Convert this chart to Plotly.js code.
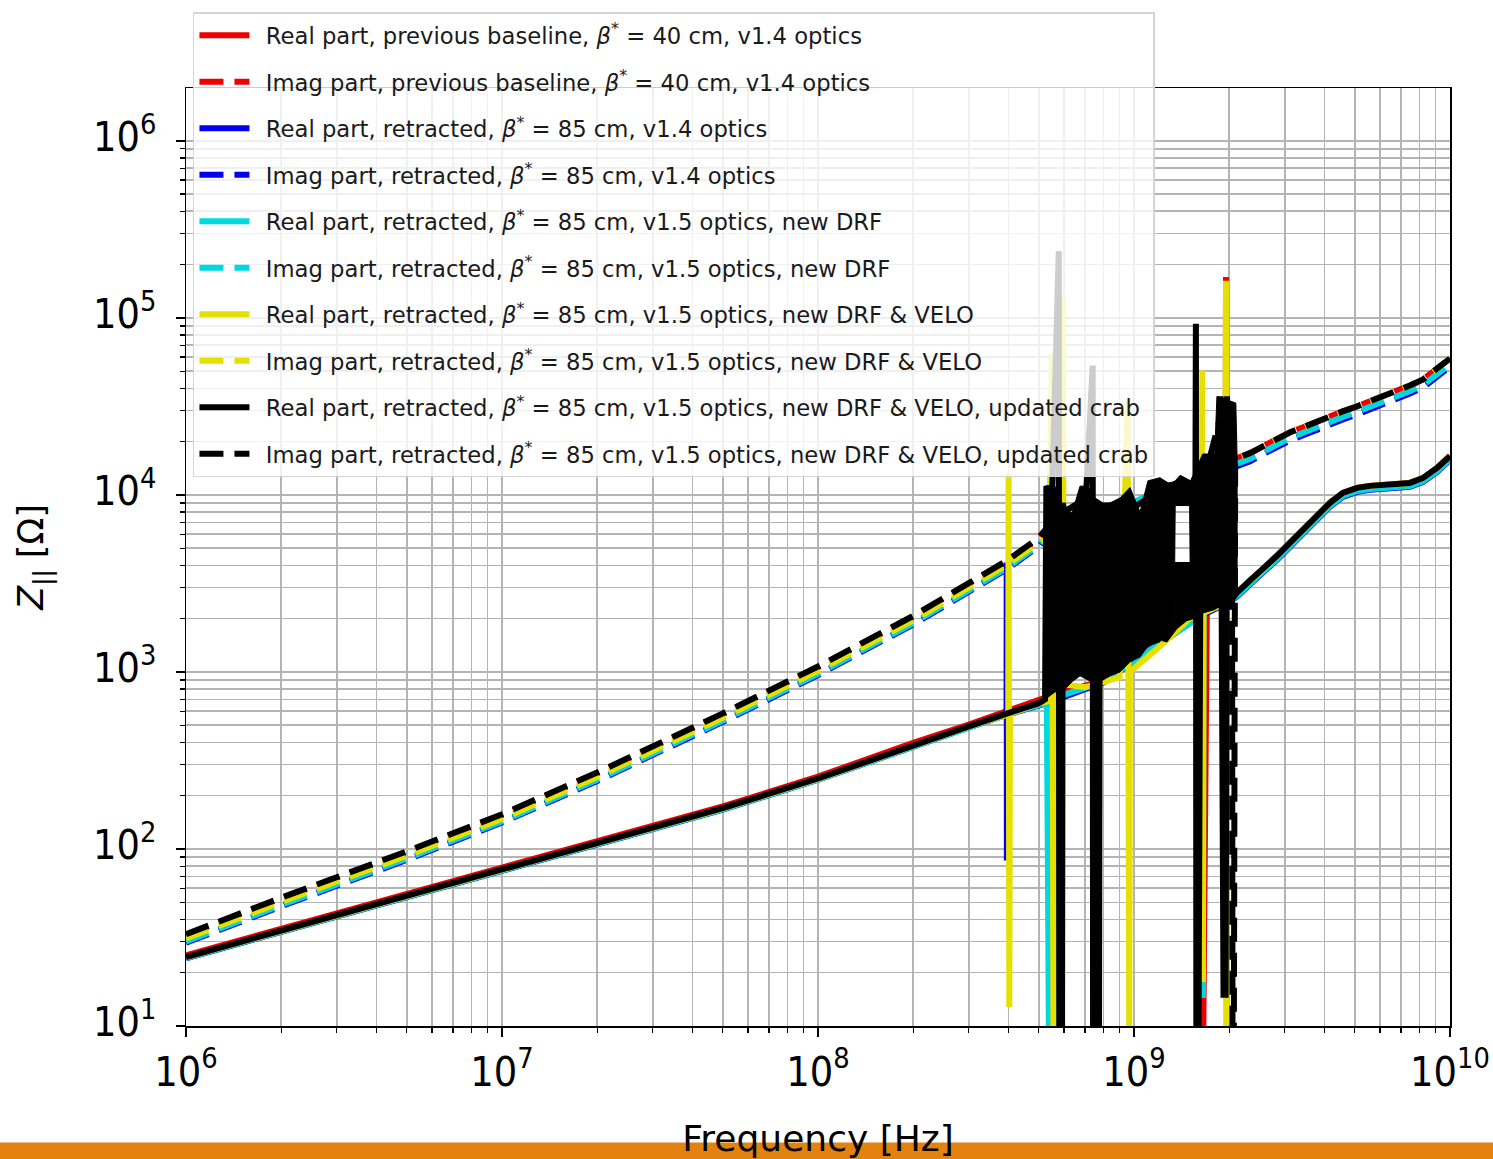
<!DOCTYPE html>
<html><head><meta charset="utf-8">
<script src="https://cdn.plot.ly/plotly-3.0.1.min.js"></script>
<style>html,body{margin:0;padding:0;background:#fff}</style>
</head><body><div id="chart" style="width:1493px;height:1159px"></div>
<script>
// ---- shared frequency grids [Hz] ----
const F_PRE  = [1e6, 2e6, 5e6, 1e7, 2e7, 5e7, 1e8, 2e8, 3e8, 4e8, 5e8];
const F_POST = [2.12e9, 2.33e9, 2.56e9, 2.84e9, 3.12e9, 3.43e9, 3.80e9, 4.17e9, 4.58e9, 5.08e9, 5.58e9, 6.14e9, 6.79e9, 7.47e9, 8.22e9, 9.1e9, 1e10];

// ---- red: previous baseline, beta*=40 cm, v1.4 ----
const RED_RE_PRE   = [25.1, 35.4, 55.4, 77.9, 110, 174, 256, 398, 504, 600, 683];
const RED_RE_RES_F = [5.3e8, 8e8, 1.2e9, 1.6e9, 1.648e9, 1.656e9, 1.7e9, 1.8e9, 1.948e9, 1.955e9, 1.962e9, 2.05e9];
const RED_RE_RES   = [720, 900, 1500, 2100, 8, 8, 2200, 2300, 2400, 170000, 2450, 2650];
const RED_RE_POST  = [2810, 3290, 3790, 4540, 5370, 6360, 7620, 9020, 10260, 10950, 11240, 11380, 11380, 11680, 12460, 14190, 16560];
const RED_IM_PRE   = [32.7, 52.5, 96, 155, 267, 577, 1062, 2050, 3140, 4260, 5670];
const RED_IM_RES_F = [5.3e8, 1e9, 1.6e9, 2.0e9];
const RED_IM_RES   = [6400, 9000, 12000, 15000];
const RED_IM_POST  = [16100, 17200, 18850, 20900, 22580, 24100, 26040, 27780, 29630, 31620, 33740, 35980, 38380, 41490, 44860, 51050, 58900];

// ---- blue: retracted, beta*=85 cm, v1.4 ----
const BLU_RE_PRE   = [24.1, 34.0, 53.2, 74.9, 105, 167, 246, 382, 485, 576, 656];
const BLU_RE_RES_F = [3.95e8, 3.955e8, 3.96e8, 3.965e8, 5.3e8, 8e8, 1.2e9, 1.6e9, 2.0e9];
const BLU_RE_RES   = [572, 4150, 86, 574, 665, 870, 1440, 2040, 2480];
const BLU_RE_POST  = [2670, 3126, 3601, 4313, 5102, 6042, 7239, 8569, 9747, 10403, 10678, 10811, 10811, 11096, 11837, 13481, 15732];
const BLU_IM_PRE   = [29.5, 47.4, 86.8, 141, 242, 522, 960, 1853, 2837, 3849, 5128];
const BLU_IM_RES_F = [5.3e8, 8e8, 1.2e9, 1.6e9, 2.0e9];
const BLU_IM_RES   = [5800, 7500, 10500, 12000, 14000];
const BLU_IM_POST  = [14490, 15480, 16965, 18810, 20322, 21690, 23436, 25002, 26667, 28458, 30366, 32382, 34542, 37341, 40374, 45945, 53010];

// ---- cyan: retracted, v1.5 optics, new DRF ----
const CYA_RE_PRE   = [24.2, 34.1, 53.3, 75.0, 105.5, 167.5, 246.5, 382.5, 485, 577, 657];
const CYA_RE_RES_F = [5.3e8, 5.38e8, 5.42e8, 8e8, 1.2e9, 1.6e9, 1.646e9, 1.652e9, 1.66e9, 2.0e9];
const CYA_RE_RES   = [670, 8, 700, 880, 1450, 2050, 2100, 14.4, 2150, 2500];
const CYA_RE_POST  = [2698, 3158, 3638, 4358, 5155, 6106, 7315, 8659, 9850, 10512, 10790, 10925, 10925, 11213, 11962, 13622, 15898];
const CYA_IM_PRE   = [30.0, 48.2, 88.3, 143, 246, 531, 976, 1884, 2885, 3913, 5214];
const CYA_IM_RES_F = [5.3e8, 8e8, 1.2e9, 1.6e9, 2.0e9];
const CYA_IM_RES   = [5900, 7600, 10600, 12000, 14500];
const CYA_IM_POST  = [14973, 15996, 17531, 19437, 21000, 22413, 24217, 25835, 27556, 29407, 31378, 33461, 35693, 38586, 41720, 47477, 54777];

// ---- yellow: new DRF & VELO ----
const YEL_RE_PRE   = [24.4, 34.3, 53.7, 75.6, 106.5, 169, 249, 386, 490, 582, 663];
const YEL_RE_RES_F = [3.99e8, 4.01e8, 4.03e8, 4.05e8, 5.3e8, 5.50e8, 5.52e8, 5.56e8, 5.58e8, 5.9e8, 5.95e8, 6.0e8, 7e8, 9e8, 9.55e8, 9.62e8, 9.66e8, 9.7e8, 1.2e9, 1.5e9, 1.63e9, 1.645e9, 1.652e9, 1.66e9, 1.8e9, 1.94e9, 1.955e9, 1.958e9, 1.965e9, 2.05e9];
const YEL_RE_RES   = [575, 13300, 12.8, 580, 680, 63000, 8, 8, 780, 800, 131000, 850, 820, 930, 33700, 8, 8, 1000, 1380, 2000, 2100, 50400, 17.7, 2150, 2300, 2400, 162000, 8, 2500, 2650];
const YEL_RE_POST  = [2810, 3290, 3790, 4540, 5370, 6360, 7620, 9020, 10260, 10950, 11240, 11380, 11380, 11680, 12460, 14190, 16560];
const YEL_IM_PRE   = [31.2, 50.1, 91.7, 148, 255, 551, 1014, 1956, 2996, 4064, 5415];
const YEL_IM_RES_F = [5.3e8, 6.5e8, 7.5e8, 8.5e8, 1.1e9, 1.3e9, 1.5e9, 1.8e9, 2.05e9];
const YEL_IM_RES   = [5700, 4500, 7500, 8000, 9000, 10500, 11500, 13000, 15000];
const YEL_IM_POST  = [16100, 17200, 18850, 20900, 22580, 24100, 26040, 27780, 29630, 31620, 33740, 35980, 38380, 41490, 44860, 51050, 58900];

// ---- black: new DRF & VELO, updated crab ----
const BLK_RE_PRE   = [24.5, 34.5, 54, 76, 107, 170, 250, 388, 492, 585, 666];
const BLK_RE_RES_F = [5.23e8, 5.28e8, 5.5e8, 5.78e8, 5.80e8, 5.84e8, 5.86e8, 5.88e8, 5.92e8, 5.95e8, 6.2e8, 6.6e8, 7.0e8, 7.4e8, 7.42e8, 7.5e8, 7.55e8, 7.6e8, 7.75e8, 7.8e8, 8.4e8, 9.0e8, 9.7e8, 1.05e9, 1.1e9, 1.15e9, 1.25e9, 1.35e9, 1.45e9, 1.56e9, 1.57e9, 1.575e9, 1.6e9, 1.62e9, 1.75e9, 1.85e9, 1.88e9, 1.92e9, 1.95e9, 1.97e9, 2.05e9];
const BLK_RE_RES   = [700, 11200, 9500, 238000, 8, 8, 9000, 8, 8, 9000, 6000, 1000, 9500, 53700, 8, 8, 6000, 8, 8, 9000, 1100, 9000, 1150, 8000, 1400, 12000, 1500, 1800, 2000, 2080, 92500, 8, 8, 2200, 17000, 2300, 36000, 15, 15, 36000, 2600];
const BLK_RE_POST  = [2810, 3290, 3790, 4540, 5370, 6360, 7620, 9020, 10260, 10950, 11240, 11380, 11380, 11680, 12460, 14190, 16560];
const BLK_IM_PRE   = [33, 53, 97, 157, 270, 583, 1073, 2070, 3170, 4300, 5730];
const BLK_IM_RES_F = [5.3e8, 6.0e8, 7.0e8, 8.0e8, 9.0e8, 1.0e9, 1.1e9, 1.2e9, 1.35e9, 1.5e9, 1.7e9, 1.9e9, 2.04e9, 2.05e9, 2.07e9, 2.09e9];
const BLK_IM_RES   = [6500, 8000, 9500, 8500, 9000, 8500, 9500, 11000, 11500, 11000, 14000, 30000, 33000, 8, 8, 15000];
const BLK_IM_POST  = [16100, 17200, 18850, 20900, 22580, 24100, 26040, 27780, 29630, 31620, 33740, 35980, 38380, 41490, 44860, 51050, 58900];

// ---- dense resonance band of the black curves (envelope) ----
const BAND_F  = [5.23e8, 5.62e8, 6.05e8, 6.37e8, 6.75e8, 7.15e8, 7.53e8, 7.98e8, 8.40e8, 9.03e8, 9.71e8, 1.045e9, 1.107e9, 1.208e9, 1.30e9, 1.34e9, 1.35e9, 1.40e9, 1.50e9, 1.51e9, 1.65e9, 1.80e9, 1.83e9, 2.10e9, 2.12e9];
const BAND_UP = [11200, 11200, 8200, 7900, 11200, 11200, 9600, 9000, 9000, 9600, 11000, 8000, 12000, 12500, 11500, 12000, 12000, 12900, 12000, 12000, 17000, 17000, 36000, 33000, 16100];
const BAND_LO = [700, 770, 800, 880, 950, 900, 880, 900, 950, 1000, 1140, 1215, 1400, 1480, 1740, 1780, 8700, 8700, 8700, 2090, 2150, 2250, 2300, 2700, 2810];
const BAND2_F  = [1.34e9, 1.51e9];
const BAND2_UP = [4150, 4150];
const BAND2_LO = [1780, 2090];

// ---- tick labels ----
const X_TICKS = [1e6, 1e7, 1e8, 1e9, 1e10];
const X_TICK_TEXT = ['10<sup>6</sup>', '10<sup>7</sup>', '10<sup>8</sup>', '10<sup>9</sup>', '10<sup>10</sup>'];
const Y_TICKS = [1e1, 1e2, 1e3, 1e4, 1e5, 1e6];
const Y_TICK_TEXT = ['10<sup>1</sup>', '10<sup>2</sup>', '10<sup>3</sup>', '10<sup>4</sup>', '10<sup>5</sup>', '10<sup>6</sup>'];

// ---- legend labels ----
const BS = '<i>β</i><sup>*</sup>';
const PAD = '\u2002';
const NAMES = [
  'Real part, previous baseline, ' + BS + ' = 40 cm, v1.4 optics',
  'Imag part, previous baseline, ' + BS + ' = 40 cm, v1.4 optics',
  'Real part, retracted, ' + BS + ' = 85 cm, v1.4 optics',
  'Imag part, retracted, ' + BS + ' = 85 cm, v1.4 optics',
  'Real part, retracted, ' + BS + ' = 85 cm, v1.5 optics, new DRF',
  'Imag part, retracted, ' + BS + ' = 85 cm, v1.5 optics, new DRF',
  'Real part, retracted, ' + BS + ' = 85 cm, v1.5 optics, new DRF &amp; VELO',
  'Imag part, retracted, ' + BS + ' = 85 cm, v1.5 optics, new DRF &amp; VELO',
  'Real part, retracted, ' + BS + ' = 85 cm, v1.5 optics, new DRF &amp; VELO, updated crab',
  'Imag part, retracted, ' + BS + ' = 85 cm, v1.5 optics, new DRF &amp; VELO, updated crab'
];
const COLORS = ['#ee0000', '#ee0000', '#0000ee', '#0000ee', '#00d8e0', '#00d8e0', '#e6e000', '#e6e000', '#000000', '#000000'];

function buildSeries(pre, resF, resZ, post) {
  const pts = [];
  F_PRE.forEach((f, i) => pts.push([f, pre[i]]));
  resF.forEach((f, i) => pts.push([f, resZ[i]]));
  F_POST.forEach((f, i) => pts.push([f, post[i]]));
  pts.sort((a, b) => a[0] - b[0]);
  return { x: pts.map(p => p[0]), y: pts.map(p => p[1]) };
}

const SERIES = [
  buildSeries(RED_RE_PRE, RED_RE_RES_F, RED_RE_RES, RED_RE_POST),
  buildSeries(RED_IM_PRE, RED_IM_RES_F, RED_IM_RES, RED_IM_POST),
  buildSeries(BLU_RE_PRE, BLU_RE_RES_F, BLU_RE_RES, BLU_RE_POST),
  buildSeries(BLU_IM_PRE, BLU_IM_RES_F, BLU_IM_RES, BLU_IM_POST),
  buildSeries(CYA_RE_PRE, CYA_RE_RES_F, CYA_RE_RES, CYA_RE_POST),
  buildSeries(CYA_IM_PRE, CYA_IM_RES_F, CYA_IM_RES, CYA_IM_POST),
  buildSeries(YEL_RE_PRE, YEL_RE_RES_F, YEL_RE_RES, YEL_RE_POST),
  buildSeries(YEL_IM_PRE, YEL_IM_RES_F, YEL_IM_RES, YEL_IM_POST),
  buildSeries(BLK_RE_PRE, BLK_RE_RES_F, BLK_RE_RES, BLK_RE_POST),
  buildSeries(BLK_IM_PRE, BLK_IM_RES_F, BLK_IM_RES, BLK_IM_POST)
];

const FONT = 'DejaVu Sans, Liberation Sans, sans-serif';
const TICKFONT = 'DejaVu Sans Condensed, Liberation Sans Narrow, DejaVu Sans, sans-serif';
const traces = SERIES.map((s, i) => ({
  type: 'scatter', mode: 'lines', x: s.x, y: s.y, name: PAD + NAMES[i],
  legendgroup: 'g' + i,
  line: { color: COLORS[i], width: 6, dash: (i % 2 === 1) ? '24px,11px' : 'solid' },
  hoverinfo: 'skip'
}));

function band(f, up, lo) {
  return {
    type: 'scatter', mode: 'lines',
    x: f.concat(f.slice().reverse()),
    y: up.concat(lo.slice().reverse()),
    fill: 'toself', fillcolor: '#000000',
    line: { color: '#000000', width: 1 }, showlegend: false, hoverinfo: 'skip'
  };
}
traces.push(band(BAND_F, BAND_UP, BAND_LO));
traces.push(band(BAND2_F, BAND2_UP, BAND2_LO));

const gridC = '#b4b4b4';
const axisCommon = {
  type: 'log', tickmode: 'array',
  tickfont: { family: TICKFONT, size: 41, color: '#000' },
  ticks: 'outside', ticklen: 9, tickwidth: 1.5, tickcolor: '#000',
  showline: true, linecolor: '#000', linewidth: 1.5, mirror: true,
  showgrid: true, gridcolor: gridC, gridwidth: 1.5, zeroline: false,
  minor: { dtick: 'D1', ticks: 'outside', ticklen: 5, tickwidth: 1.2, tickcolor: '#000', showgrid: true, gridcolor: gridC, gridwidth: 1.5 }
};

const layout = {
  width: 1493, height: 1159,
  margin: { l: 186, r: 43, t: 83, b: 133 },
  paper_bgcolor: '#fff', plot_bgcolor: '#fff',
  font: { family: FONT, color: '#000' },
  showlegend: true,
  xaxis: Object.assign({}, axisCommon, {
    range: [6, 10], tickvals: X_TICKS, ticktext: X_TICK_TEXT,
    ticklabelstandoff: 0,
    title: { text: 'Frequency [Hz]', font: { family: FONT, size: 36, color: '#000' }, standoff: 34 }
  }),
  yaxis: Object.assign({}, axisCommon, {
    range: [1, 6.298], tickvals: Y_TICKS, ticktext: Y_TICK_TEXT,
    ticklabelstandoff: 11, ticklabelshift: -4,
    title: { text: '<i>Z</i><sub>||</sub> [Ω]', font: { family: FONT, size: 35, color: '#000' }, standoff: 38 }
  }),
  legend: {
    x: 0.0055, y: 1.0806, xanchor: 'left', yanchor: 'top',
    bgcolor: 'rgba(255,255,255,0.8)', bordercolor: '#d4d4d4', borderwidth: 1.5,
    font: { family: FONT, size: 22.7, color: '#1a1a1a' },
    traceorder: 'grouped', tracegroupgap: 14, itemwidth: 50
  },
  shapes: [{
    type: 'rect', xref: 'paper', yref: 'paper', layer: 'above',
    x0: -0.2, x1: 1.2, y0: -0.2, y1: -0.1241,
    fillcolor: '#e3820f', line: { width: 0 }
  }]
};

Plotly.newPlot('chart', traces, layout, { staticPlot: true });
</script></body></html>
